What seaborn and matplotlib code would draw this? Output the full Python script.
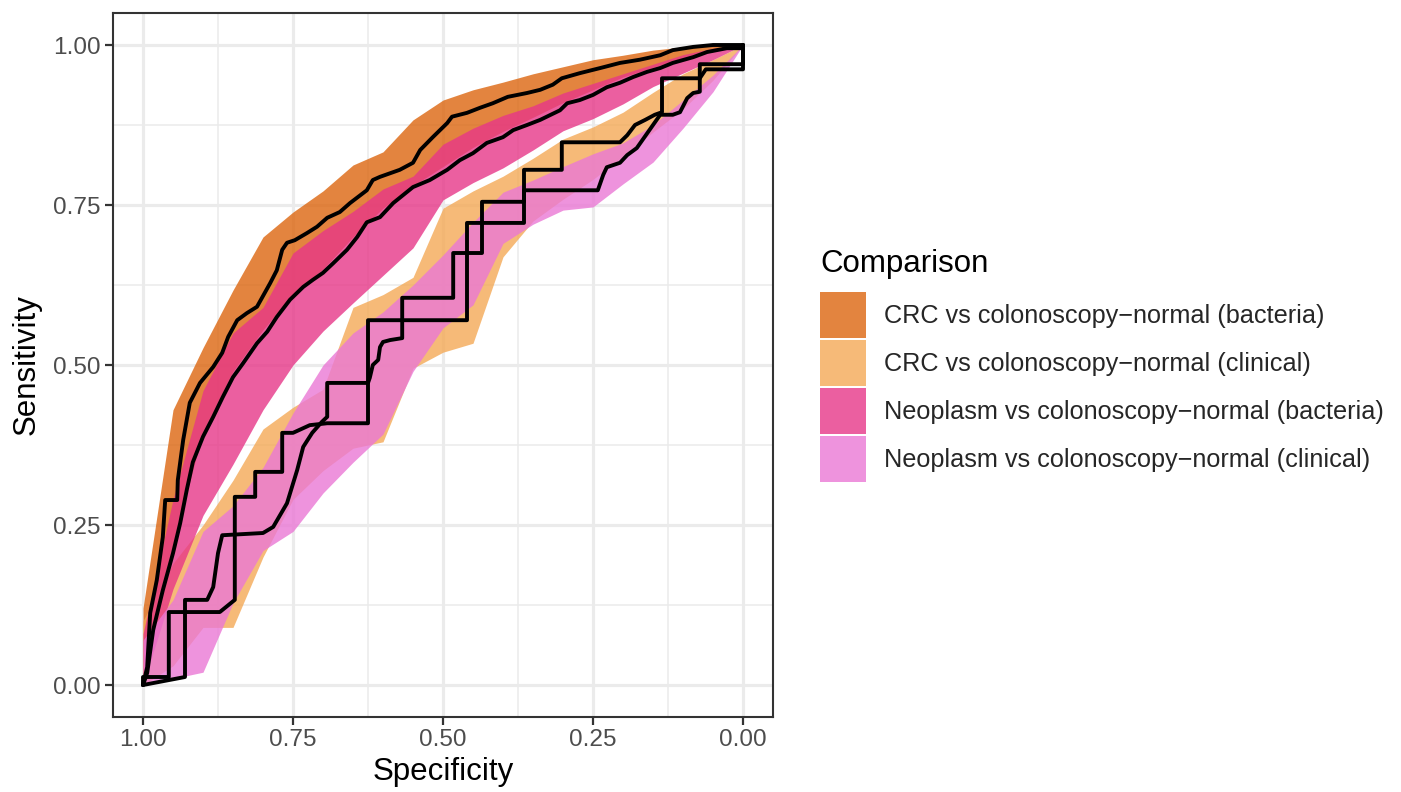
import numpy as np
import pandas as pd
import matplotlib
matplotlib.use("Agg")
import matplotlib.pyplot as plt
import seaborn as sns
from matplotlib.patches import Patch

sns.set_theme(style="white")
plt.rcParams["font.family"] = ["Liberation Sans", "DejaVu Sans"]

# ---------------- data ----------------
comparisons = [
    "CRC vs colonoscopy\u2212normal (bacteria)",
    "CRC vs colonoscopy\u2212normal (clinical)",
    "Neoplasm vs colonoscopy\u2212normal (bacteria)",
    "Neoplasm vs colonoscopy\u2212normal (clinical)",
]
fill_colors = ["#DC660F", "#F4A956", "#E73788", "#EA78D5"]

# specificity grid for confidence bands
band_spec = [1.00, 0.95, 0.90, 0.85, 0.80, 0.75, 0.70, 0.65, 0.60, 0.55, 0.50,
             0.45, 0.40, 0.35, 0.30, 0.25, 0.20, 0.15, 0.10, 0.05, 0.00]

crc_bact_upper = [0.12, 0.43, 0.527, 0.617, 0.70, 0.739, 0.772, 0.8125, 0.833, 0.883, 0.914,
                  0.93, 0.942, 0.955, 0.966, 0.977, 0.984, 0.992, 0.997, 1.0, 1.0]
crc_bact_lower = [0.0, 0.22, 0.395, 0.49, 0.555, 0.61, 0.65, 0.70, 0.745, 0.78, 0.81,
                  0.84, 0.865, 0.887, 0.91, 0.93, 0.95, 0.965, 0.98, 0.99, 1.0]

crc_clin_upper = [0.10, 0.19, 0.25, 0.32, 0.40, 0.434, 0.462, 0.59, 0.61, 0.637, 0.745,
                  0.772, 0.795, 0.823, 0.853, 0.872, 0.895, 0.926, 0.955, 0.977, 1.0]
crc_clin_lower = [0.0, 0.03, 0.09, 0.09, 0.20, 0.29, 0.335, 0.37, 0.38, 0.495, 0.52,
                  0.534, 0.669, 0.725, 0.759, 0.79, 0.826, 0.864, 0.90, 0.945, 1.0]

neo_bact_upper = [0.08, 0.29, 0.46, 0.55, 0.59, 0.675, 0.71, 0.74, 0.775, 0.795, 0.845,
                  0.87, 0.89, 0.905, 0.925, 0.94, 0.955, 0.97, 0.985, 0.995, 1.0]
neo_bact_lower = [0.0, 0.15, 0.265, 0.345, 0.43, 0.50, 0.553, 0.597, 0.64, 0.683, 0.758,
                  0.785, 0.808, 0.836, 0.866, 0.885, 0.908, 0.935, 0.956, 0.977, 1.0]

neo_clin_upper = [0.07, 0.133, 0.24, 0.28, 0.34, 0.425, 0.50, 0.55, 0.583, 0.625, 0.672,
                  0.723, 0.77, 0.789, 0.81, 0.83, 0.847, 0.875, 0.914, 0.953, 1.0]
neo_clin_lower = [0.0, 0.01, 0.02, 0.128, 0.21, 0.24, 0.30, 0.348, 0.392, 0.49, 0.558,
                  0.594, 0.69, 0.72, 0.742, 0.747, 0.783, 0.817, 0.87, 0.927, 1.0]

# ROC curves
crc_bact_spec = [1.000, 0.993, 0.988, 0.977, 0.967, 0.963, 0.943, 0.942, 0.933, 0.922, 0.905,
                 0.883, 0.868, 0.858, 0.843, 0.827, 0.810, 0.788, 0.777, 0.768, 0.760, 0.747,
                 0.727, 0.710, 0.693, 0.672, 0.655, 0.627, 0.617, 0.605, 0.572, 0.550, 0.538,
                 0.517, 0.493, 0.485, 0.460, 0.438, 0.417, 0.392, 0.360, 0.338, 0.317, 0.302,
                 0.272, 0.238, 0.205, 0.172, 0.138, 0.117, 0.083, 0.050, 0.000]
crc_bact_sens = [0.000, 0.028, 0.1125, 0.164, 0.231, 0.289, 0.289, 0.320, 0.383, 0.441, 0.472,
                 0.497, 0.519, 0.544, 0.570, 0.581, 0.591, 0.628, 0.648, 0.680, 0.691, 0.695,
                 0.706, 0.716, 0.730, 0.739, 0.753, 0.773, 0.789, 0.794, 0.805, 0.816, 0.836,
                 0.856, 0.878, 0.888, 0.894, 0.902, 0.909, 0.919, 0.925, 0.930, 0.938, 0.948,
                 0.956, 0.964, 0.972, 0.977, 0.984, 0.992, 0.997, 1.000, 1.000]

neo_bact_spec = [1.000, 0.993, 0.983, 0.967, 0.950, 0.938, 0.927, 0.917, 0.900, 0.883, 0.867,
                 0.850, 0.833, 0.810, 0.793, 0.777, 0.755, 0.733, 0.717, 0.700, 0.683, 0.660,
                 0.643, 0.627, 0.605, 0.583, 0.550, 0.522, 0.493, 0.472, 0.450, 0.427, 0.400,
                 0.383, 0.360, 0.338, 0.305, 0.293, 0.272, 0.250, 0.227, 0.205, 0.183, 0.160,
                 0.138, 0.117, 0.083, 0.060, 0.027, 0.000, 0.000]
neo_bact_sens = [0.000, 0.019, 0.086, 0.148, 0.206, 0.253, 0.305, 0.348, 0.388, 0.419, 0.450,
                 0.481, 0.503, 0.534, 0.552, 0.575, 0.602, 0.622, 0.633, 0.644, 0.659, 0.680,
                 0.700, 0.723, 0.731, 0.753, 0.778, 0.789, 0.805, 0.820, 0.831, 0.847, 0.856,
                 0.867, 0.875, 0.883, 0.898, 0.909, 0.914, 0.922, 0.934, 0.941, 0.950, 0.958,
                 0.964, 0.972, 0.981, 0.989, 0.995, 0.995, 1.000]

crc_clin_spec = [1.000, 1.000, 0.957, 0.957, 0.872, 0.847, 0.847, 0.813, 0.813, 0.768, 0.768,
                 0.750, 0.722, 0.693, 0.625, 0.625, 0.460, 0.460, 0.365, 0.365, 0.242, 0.233,
                 0.227, 0.205, 0.193, 0.177, 0.150, 0.138, 0.117, 0.105, 0.093, 0.083, 0.072,
                 0.072, 0.000, 0.000]
crc_clin_sens = [0.000, 0.0125, 0.0125, 0.114, 0.114, 0.133, 0.294, 0.294, 0.333, 0.333, 0.394,
                 0.394, 0.406, 0.409, 0.409, 0.570, 0.570, 0.722, 0.722, 0.773, 0.773, 0.797,
                 0.809, 0.816, 0.828, 0.839, 0.875, 0.891, 0.891, 0.895, 0.917, 0.925, 0.927,
                 0.970, 0.970, 1.000]

neo_clin_spec = [1.000, 0.930, 0.930, 0.893, 0.883, 0.875, 0.868, 0.800, 0.783, 0.760, 0.743,
                 0.733, 0.718, 0.702, 0.693, 0.693, 0.625, 0.622, 0.617, 0.608, 0.605, 0.600,
                 0.588, 0.568, 0.568, 0.483, 0.483, 0.435, 0.435, 0.365, 0.365, 0.302, 0.302,
                 0.205, 0.193, 0.180, 0.163, 0.147, 0.135, 0.135, 0.072, 0.062, 0.000, 0.000]
neo_clin_sens = [0.000, 0.0125, 0.133, 0.133, 0.153, 0.206, 0.234, 0.2375, 0.247, 0.284, 0.336,
                 0.372, 0.394, 0.411, 0.419, 0.472, 0.472, 0.480, 0.500, 0.508, 0.528, 0.536,
                 0.539, 0.542, 0.605, 0.605, 0.675, 0.675, 0.755, 0.755, 0.805, 0.805, 0.848,
                 0.848, 0.859, 0.875, 0.883, 0.891, 0.895, 0.948, 0.948, 0.962, 0.962, 1.000]

bands = [
    (crc_bact_lower, crc_bact_upper),
    (crc_clin_lower, crc_clin_upper),
    (neo_bact_lower, neo_bact_upper),
    (neo_clin_lower, neo_clin_upper),
]
curves = [
    (crc_bact_spec, crc_bact_sens),
    (crc_clin_spec, crc_clin_sens),
    (neo_bact_spec, neo_bact_sens),
    (neo_clin_spec, neo_clin_sens),
]

curve_df = pd.concat(
    [pd.DataFrame({"Specificity": s, "Sensitivity": v, "Comparison": name})
     for (s, v), name in zip(curves, comparisons)],
    ignore_index=True,
)

# ---------------- figure ----------------
W, H = 1401, 792
fig = plt.figure(figsize=(W / 100, H / 100), dpi=100)
ax = fig.add_axes([113 / W, 75 / H, 660 / W, 704 / H])
ax.set_facecolor("white")

ALPHA = 0.8
for (lo, up), col in zip(bands, fill_colors):
    ax.fill_between(band_spec, lo, up, color=col, alpha=ALPHA, linewidth=0, zorder=2)

sns.lineplot(data=curve_df, x="Specificity", y="Sensitivity", units="Comparison",
             estimator=None, sort=False, color="black", linewidth=2.8,
             legend=False, ax=ax, zorder=3)

ax.set_xlim(1.05, -0.05)
ax.set_ylim(-0.05, 1.05)
ticks = [0.0, 0.25, 0.5, 0.75, 1.0]
ax.set_xticks(ticks)
ax.set_yticks(ticks)
ax.set_xticklabels([f"{t:.2f}" for t in ticks])
ax.set_yticklabels([f"{t:.2f}" for t in ticks])
minor = [0.125, 0.375, 0.625, 0.875]
ax.set_xticks(minor, minor=True)
ax.set_yticks(minor, minor=True)
ax.grid(which="major", color="#EBEBEB", linewidth=2.3, zorder=0)
ax.grid(which="minor", color="#EBEBEB", linewidth=1.1, zorder=0)
ax.set_axisbelow(True)

for sp in ax.spines.values():
    sp.set_color("#333333")
    sp.set_linewidth(1.5)
    sp.set_visible(True)

ax.tick_params(which="major", length=5.8, width=1.6, color="#333333",
               labelsize=17.6, labelcolor="#4D4D4D", pad=3,
               bottom=True, left=True)
ax.tick_params(which="minor", length=0)

ax.set_xlabel("Specificity", fontsize=22.5, color="black", labelpad=4)
ax.set_ylabel("Sensitivity", fontsize=22.5, color="black", labelpad=8)

# legend
fig.text(820 / W, 1 - 272 / H, "Comparison", fontsize=22.5, color="black",
         ha="left", va="baseline")
handles = [Patch(facecolor=c, alpha=ALPHA, edgecolor="none") for c in fill_colors]
leg = fig.legend(handles, comparisons, loc="upper left",
                 bbox_to_anchor=(820 / W, 1 - 292 / H), frameon=False,
                 fontsize=18.2, handlelength=1.82, handleheight=2.42,
                 labelspacing=0.08, handletextpad=0.7, borderpad=0, borderaxespad=0)

fig.savefig("out.png", dpi=100, facecolor="white")
